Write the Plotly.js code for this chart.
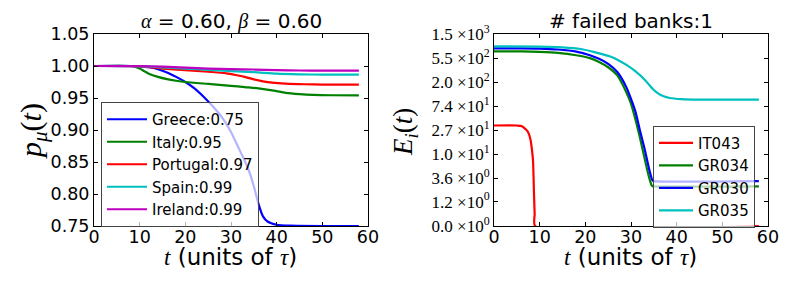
<!DOCTYPE html>
<html><head><meta charset="utf-8">
<script src="https://cdn.plot.ly/plotly-3.0.1.min.js"></script>
<style>html,body{margin:0;padding:0;background:#fff}#chart{width:789px;height:287px}</style>
</head><body><div id="chart"></div>
<script>
// ---- Left panel: p_mu(t) per country ----
const greeceT = [0, 8, 10, 12, 14, 16, 18, 20, 22, 24, 26, 28, 30, 31, 32, 33, 34, 35, 36, 37, 38, 40, 43, 50, 58];
const greeceP = [1.0, 1.0, 0.9995, 0.998, 0.995, 0.99, 0.983, 0.975, 0.965, 0.952, 0.937, 0.92, 0.897, 0.882, 0.867, 0.852, 0.835, 0.812, 0.785, 0.765, 0.757, 0.752, 0.7505, 0.75, 0.75];
const italyT = [0, 8, 9, 10, 11, 12, 14, 16, 18, 20, 25, 30, 33, 36, 39, 42, 45, 48, 52, 58];
const italyP = [1.0, 1.0, 0.999, 0.996, 0.992, 0.988, 0.983, 0.9795, 0.977, 0.975, 0.972, 0.969, 0.967, 0.965, 0.962, 0.958, 0.956, 0.9548, 0.9543, 0.9542];
const portugalT = [0, 10, 15, 20, 25, 29, 31, 33, 35, 37, 39, 42, 46, 50, 58];
const portugalP = [1.0, 0.9995, 0.996, 0.9935, 0.991, 0.9885, 0.986, 0.983, 0.979, 0.976, 0.974, 0.9725, 0.9715, 0.971, 0.971];
const spainT = [0, 10, 15, 20, 25, 30, 35, 40, 45, 50, 58];
const spainP = [1.0, 0.9995, 0.998, 0.996, 0.994, 0.992, 0.9905, 0.988, 0.987, 0.9865, 0.9864];
const irelandT = [0, 10, 15, 20, 25, 30, 35, 40, 45, 50, 58];
const irelandP = [1.0, 0.9998, 0.999, 0.9975, 0.996, 0.995, 0.9945, 0.9935, 0.993, 0.9928, 0.9927];
const countryNames = ["Greece:0.75", "Italy:0.95", "Portugal:0.97", "Spain:0.99", "Ireland:0.99"];

// ---- Right panel: E_i(t) per bank ----
const it043T = [0, 5, 6, 7, 7.5, 8, 8.3, 8.55, 8.75, 8.9, 9.0, 58];
const it043E = [33, 33, 32.3, 27.9, 24.7, 18.3, 12.2, 7.4, 1.9, 0.52, 0, 0];
const gr034T = [0, 6, 10, 14, 18, 21, 23, 25, 27, 29, 30, 31, 32, 33, 34, 34.6, 35, 58];
const gr034E = [725, 725, 711, 683, 618, 548, 467, 375, 267, 131, 82, 41.5, 19.2, 8.2, 3.63, 2.56, 2.51, 2.51];
const gr030T = [0, 6, 10, 14, 18, 21, 23, 25, 27, 29, 30, 31, 32, 33, 34, 34.7, 35, 58];
const gr030E = [826, 826, 818, 786, 718, 618, 532, 431, 307, 162, 100, 57.8, 26, 12.25, 5.2, 3.27, 3.17, 3.17];
const gr035T = [0, 10, 15, 19, 22, 26, 29, 31, 33, 34, 35, 36, 37, 38.5, 41, 45, 58];
const gr035E = [895, 886, 860, 802, 704, 565, 414, 316, 223, 179, 145, 125, 113, 104, 99, 97, 97];
const bankNames = ["IT043", "GR034", "GR030", "GR035"];

// tick labels of the right y axis (mantissa x 10^exp)
const eTickMant = ["0.0", "1.2", "3.6", "1.0", "2.7", "7.4", "2.0", "5.5", "1.5"];
const eTickExp = [0, 0, 0, 1, 1, 1, 2, 2, 3];

const eTickVals = eTickMant.map((m, i) => parseFloat(m) * Math.pow(10, eTickExp[i]));
const eTickText = eTickMant.map((m, i) => m + " \u00d710<sup>" + eTickExp[i] + "</sup>");
const tr = a => a.map(v => Math.asinh(v));

const lw = 2.2;
const leftSeries = [[greeceT, greeceP, "#0000ff"], [italyT, italyP, "#008000"], [portugalT, portugalP, "#ff0000"], [spainT, spainP, "#00bfbf"], [irelandT, irelandP, "#bf00bf"]];
const rightSeries = [[it043T, it043E, "#ff0000"], [gr034T, gr034E, "#008000"], [gr030T, gr030E, "#0000ff"], [gr035T, gr035E, "#00bfbf"]];

const traces = [];
leftSeries.forEach((s, i) => traces.push({
  x: s[0], y: s[1], name: countryNames[i], type: "scatter", mode: "lines",
  line: {color: s[2], width: lw, shape: "spline", smoothing: 0.6}, xaxis: "x", yaxis: "y", legend: "legend"
}));
rightSeries.forEach((s, i) => traces.push({
  x: s[0], y: tr(s[1]), name: bankNames[i], type: "scatter", mode: "lines",
  line: {color: s[2], width: lw, shape: "spline", smoothing: 0.6}, xaxis: "x2", yaxis: "y2", legend: "legend2"
}));

const H = 287, W = 789;
const ydom = [1 - 226 / H, 1 - 34 / H];
const sans = "DejaVu Sans";
const serif = "Liberation Serif";
const axBase = {
  showline: true, linecolor: "#000", linewidth: 1, mirror: "ticks", ticks: "inside", ticklen: 4,
  tickcolor: "#000", showgrid: false, zeroline: false, fixedrange: true,
  tickfont: {family: sans, size: 17.5, color: "#000"}
};
const legBase = {
  xanchor: "left", yanchor: "top", bgcolor: "rgba(255,255,255,0.7)", bordercolor: "#444", borderwidth: 1,
  font: {family: sans, size: 15, color: "#000"}, tracegroupgap: 0
};
const xTitle = "<span style=\"font-family:'Liberation Serif'\"><i>t</i></span> (units of <span style=\"font-family:'Liberation Serif'\"><i>\u03c4</i></span>)";
const layout = {
  width: W, height: H, margin: {l: 0, r: 0, t: 0, b: 0}, paper_bgcolor: "#fff", plot_bgcolor: "#fff",
  showlegend: true,
  xaxis: Object.assign({}, axBase, {domain: [94 / W, 368 / W], range: [0, 60], tickvals: [0, 10, 20, 30, 40, 50, 60], anchor: "y", ticklabelstandoff: -5}),
  yaxis: Object.assign({}, axBase, {domain: ydom, range: [0.75, 1.05], tickvals: [0.75, 0.8, 0.85, 0.9, 0.95, 1.0, 1.05], tickformat: ".2f", anchor: "x"}),
  xaxis2: Object.assign({}, axBase, {domain: [494 / W, 768 / W], range: [0, 60], tickvals: [0, 10, 20, 30, 40, 50, 60], anchor: "y2", ticklabelstandoff: -5, layer: "below traces"}),
  yaxis2: Object.assign({}, axBase, {domain: ydom, range: [0, Math.asinh(1500)], tickvals: tr(eTickVals), ticktext: eTickText, anchor: "x2",
    tickfont: {family: serif, size: 17, color: "#000"}}),
  legend: Object.assign({}, legBase, {x: 101 / W, y: 1 - 102 / H, itemwidth: 40}),
  legend2: Object.assign({}, legBase, {x: 653 / W, y: 1 - 125.7 / H, itemwidth: 34}),
  annotations: [
    {text: "<span style=\"font-family:'Liberation Serif'\"><i>\u03b1</i></span> = 0.60, <span style=\"font-family:'Liberation Serif'\"><i>\u03b2</i></span> = 0.60", x: 231 / W, y: 1 - 21 / H, xref: "paper", yref: "paper", xanchor: "center", yanchor: "middle", showarrow: false, font: {family: sans, size: 20, color: "#000"}},
    {text: "# failed banks:1", x: 631 / W, y: 1 - 21 / H, xref: "paper", yref: "paper", xanchor: "center", yanchor: "middle", showarrow: false, font: {family: sans, size: 20, color: "#000"}},
    {text: xTitle, x: 230 / W, y: 1 - 257 / H, xref: "paper", yref: "paper", xanchor: "center", yanchor: "middle", showarrow: false, font: {family: sans, size: 23, color: "#000"}},
    {text: xTitle, x: 630 / W, y: 1 - 257 / H, xref: "paper", yref: "paper", xanchor: "center", yanchor: "middle", showarrow: false, font: {family: sans, size: 23, color: "#000"}},
    {text: "<i>p</i><sub><i>\u03bc</i></sub>(<i>t</i>)", x: 33 / W, y: 1 - 131 / H, xref: "paper", yref: "paper", xanchor: "center", yanchor: "middle", textangle: -90, showarrow: false, font: {family: serif, size: 30, color: "#000"}},
    {text: "<i>E</i><sub><i>i</i></sub>(<i>t</i>)", x: 405 / W, y: 1 - 132 / H, xref: "paper", yref: "paper", xanchor: "center", yanchor: "middle", textangle: -90, showarrow: false, font: {family: serif, size: 27, color: "#000"}}
  ]
};
Plotly.newPlot("chart", traces, layout, {staticPlot: true, displayModeBar: false});
</script></body></html>
